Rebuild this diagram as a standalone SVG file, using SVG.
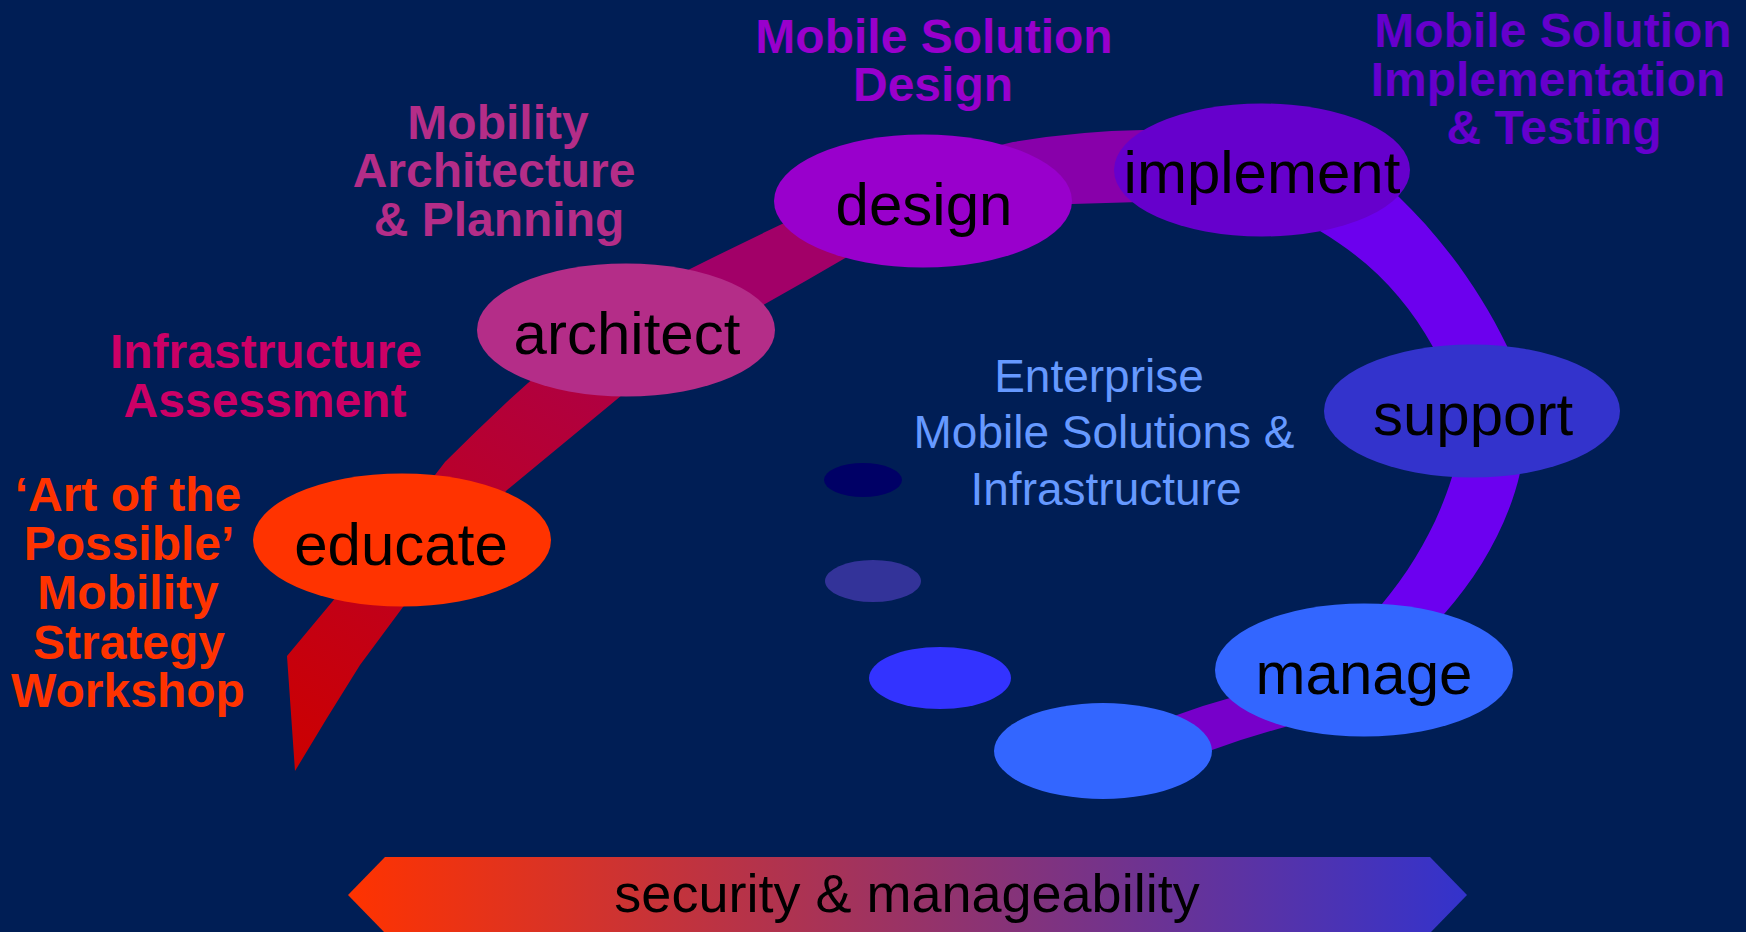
<svg xmlns="http://www.w3.org/2000/svg" width="1746" height="932" viewBox="0 0 1746 932">
<style>
  .nt { font-family: "Liberation Sans", Arial, sans-serif; font-size: 60px; fill: #000000; text-anchor: middle; }
  .lb { font-family: "Liberation Sans", Arial, sans-serif; font-weight: bold; font-size: 48px; text-anchor: middle; }
  .ct { font-family: "Liberation Sans", Arial, sans-serif; font-size: 46px; fill: #6699FF; text-anchor: middle; }
  .bt { font-family: "Liberation Sans", Arial, sans-serif; font-size: 54px; fill: #000000; text-anchor: middle; }
</style>
<defs>
  <linearGradient id="tailGrad" gradientUnits="userSpaceOnUse" x1="300" y1="770" x2="560" y2="370">
    <stop offset="0" stop-color="#CC0000"/>
    <stop offset="1" stop-color="#B00040"/>
  </linearGradient>
  <linearGradient id="barGrad" x1="0" y1="0" x2="1" y2="0">
    <stop offset="0" stop-color="#FF3300"/>
    <stop offset="1" stop-color="#3333CC"/>
  </linearGradient>
</defs>
<rect x="0" y="0" width="1746" height="932" fill="#001E55"/>

<g id="connectors">
  <path d="M 295 771 L 287 656 L 332 602 L 435 475 L 445 462 Q 475 432 507 402 L 528 383 L 565 352 L 640 380 L 610 405 L 507 490 L 403 607 L 360 665 L 327 718 Z" fill="url(#tailGrad)"/>
  <path d="M 660 285 L 690 269 Q 736 246 782 224 L 810 212 L 875 242 L 847 257 Q 806 281 765 304 L 740 318 Z" fill="#A20068"/>
  <path d="M 980 150 L 1013 142 Q 1078 131 1143 130 L 1170 130 L 1170 201 L 1140 202 L 1072 204 L 1050 206 Z" fill="#8800AA"/>
  <path d="M 1370 175 L 1397 195 C 1442 238 1480 290 1507 346 L 1512 365 L 1438 365 L 1433 347 C 1407 300 1372 262 1320 231 L 1300 222 Z" fill="#6C00EE"/>
  <path d="M 1523 455 L 1520 473 C 1508 525 1480 573 1445 613 L 1425 632 L 1365 622 L 1382 604 C 1413 567 1438 523 1452 477 L 1455 460 Z" fill="#6C00F0"/>
  <path d="M 1150 725 L 1177 715 Q 1204 705 1230 698 L 1260 688 L 1300 718 L 1285 727 Q 1248 737 1212 750 L 1195 757 Z" fill="#7700CA"/>
</g>

<g id="node-educate">
  <ellipse cx="402" cy="540" rx="149" ry="66.5" fill="#FF3300"/>
  <text class="nt" x="401" y="565">educate</text>
</g>
<g id="node-architect">
  <ellipse cx="626" cy="330" rx="149" ry="66.5" fill="#B42D88"/>
  <text class="nt" x="627" y="354">architect</text>
</g>
<g id="node-design">
  <ellipse cx="923" cy="201" rx="149" ry="66.5" fill="#9900CC"/>
  <text class="nt" x="924" y="225">design</text>
</g>
<g id="node-implement">
  <ellipse cx="1262" cy="170" rx="148" ry="66.5" fill="#6600CC"/>
  <text class="nt" x="1262" y="193">implement</text>
</g>
<g id="node-support">
  <ellipse cx="1472" cy="411" rx="148" ry="66.5" fill="#3333CC"/>
  <text class="nt" x="1473" y="435">support</text>
</g>
<g id="node-manage">
  <ellipse cx="1364" cy="670" rx="149" ry="66.5" fill="#3366FF"/>
  <text class="nt" x="1364" y="694">manage</text>
</g>
<g id="node-blank">
  <ellipse cx="1103" cy="751" rx="109" ry="48" fill="#3366FF"/>
</g>
<g id="node-dot1">
  <ellipse cx="940" cy="678" rx="71" ry="31" fill="#3333FF"/>
</g>
<g id="node-dot2">
  <ellipse cx="873" cy="581" rx="48" ry="21" fill="#333399"/>
</g>
<g id="node-dot3">
  <ellipse cx="863" cy="480" rx="39" ry="17" fill="#000066"/>
</g>

<g id="label-workshop" class="lb" fill="#FF3300">
  <text class="lb" x="128" y="511">‘Art of the</text>
  <text class="lb" x="129" y="560">Possible’</text>
  <text class="lb" x="128" y="609">Mobility</text>
  <text class="lb" x="129" y="659">Strategy</text>
  <text class="lb" x="128" y="707">Workshop</text>
</g>
<g id="label-assessment" fill="#CC0066">
  <text class="lb" x="266" y="368">Infrastructure</text>
  <text class="lb" x="265" y="417">Assessment</text>
</g>
<g id="label-architecture" fill="#B42D88">
  <text class="lb" x="498" y="139">Mobility</text>
  <text class="lb" x="494" y="187">Architecture</text>
  <text class="lb" x="499" y="236">&amp; Planning</text>
</g>
<g id="label-design" fill="#9900CC">
  <text class="lb" x="934" y="53">Mobile Solution</text>
  <text class="lb" x="933" y="101">Design</text>
</g>
<g id="label-implementation" fill="#6600CC">
  <text class="lb" x="1553" y="47">Mobile Solution</text>
  <text class="lb" x="1548" y="96">Implementation</text>
  <text class="lb" x="1554" y="144">&amp; Testing</text>
</g>
<g id="label-center">
  <text class="ct" x="1099" y="392">Enterprise</text>
  <text class="ct" x="1104" y="448">Mobile Solutions &amp;</text>
  <text class="ct" x="1106" y="505">Infrastructure</text>
</g>

<g id="bar-security">
  <polygon points="348,895 385,857 1430,857 1467,895 1430,933 385,933" fill="url(#barGrad)"/>
  <text class="bt" x="907" y="912">security &amp; manageability</text>
</g>
</svg>
